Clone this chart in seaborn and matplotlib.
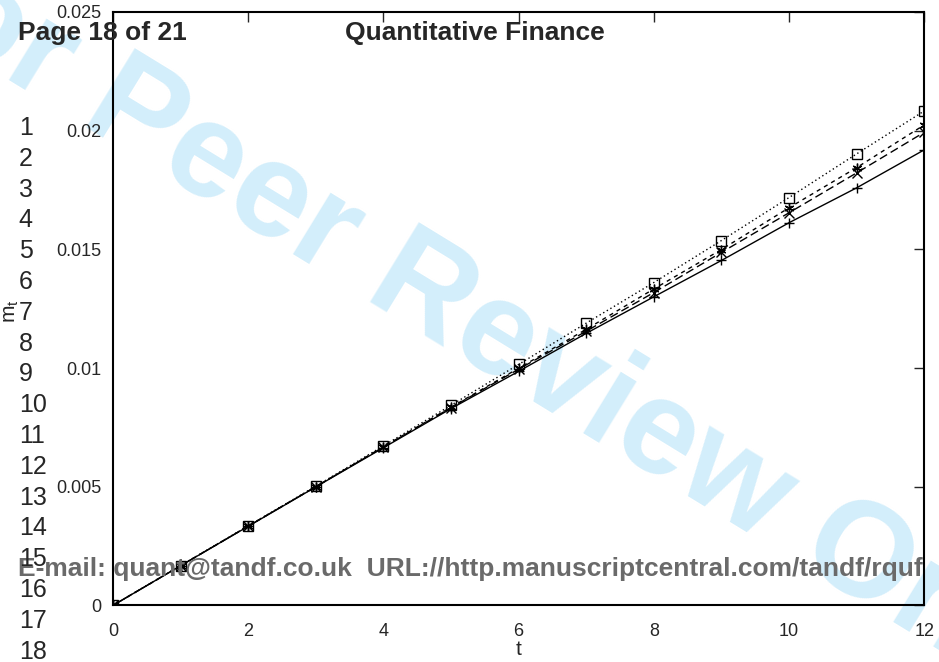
import numpy as np
import pandas as pd
import matplotlib
matplotlib.use('Agg')
import matplotlib.pyplot as plt
import seaborn as sns

# valores
t = [0, 1, 2, 3, 4, 5, 6, 7, 8, 9, 10, 11, 12]
m_plus = [0, 0.00167, 0.00333, 0.00499, 0.00664, 0.00829, 0.00986, 0.01146, 0.01300, 0.01453, 0.01612, 0.01759, 0.01919]
m_cross = [0, 0.00167, 0.00334, 0.00500, 0.00667, 0.00833, 0.00995, 0.01155, 0.01318, 0.01487, 0.01654, 0.01822, 0.01993]
m_star = [0, 0.00167, 0.00334, 0.00500, 0.00668, 0.00835, 0.00999, 0.01163, 0.01333, 0.01499, 0.01675, 0.01844, 0.02024]
m_square = [0, 0.00168, 0.00335, 0.00502, 0.00672, 0.00843, 0.01015, 0.01189, 0.01360, 0.01537, 0.01718, 0.01902, 0.02083]
x_ticks = [0, 2, 4, 6, 8, 10, 12]
y_ticks = [0, 0.005, 0.01, 0.015, 0.02, 0.025]
y_labels = ['0', '0.005', '0.01', '0.015', '0.02', '0.025']

sns.set_style('white')
plt.rcParams['font.family'] = ['Liberation Sans', 'DejaVu Sans']

fig = plt.figure(figsize=(9.39, 6.62), dpi=100)
ax = fig.add_axes([0.1203, 0.0855, 0.864, 0.8965])
ax.patch.set_alpha(0)

asterisk = (6, 2, 0)
series = [
    (m_plus, '-', '+'),
    (m_cross, (0, (6, 3)), 'x'),
    (m_star, (0, (3, 3)), asterisk),
    (m_square, (0, (1, 2)), 's'),
]
for vals, ls, mk in series:
    df = pd.DataFrame({'t': t, 'm': vals})
    sns.lineplot(data=df, x='t', y='m', ax=ax, color='black', linewidth=1.0,
                 linestyle=ls, marker=mk, markersize=7, markerfacecolor='none',
                 markeredgecolor='black', markeredgewidth=1.0)

ax.set_xlim(0, 12)
ax.set_ylim(0, 0.025)
ax.set_xticks(x_ticks)
ax.set_yticks(y_ticks)
ax.set_yticklabels(y_labels)
ax.tick_params(direction='in', length=7, width=1, top=True, right=True,
               labelsize=13, pad=8)
ax.tick_params(axis='x', pad=13)
for s in ax.spines.values():
    s.set_linewidth(1.5)
    s.set_color('black')
ax.set_xlabel('t', fontsize=15, labelpad=0)
ax.set_ylabel('')
fig.text(0.012, 0.53, r'm$_\mathregular{t}$', rotation=90, fontsize=15,
         ha='center', va='center')

# marca d'agua e cabecalho da pagina
fig.text(0.505, 0.51, 'For Peer Review Only', fontsize=98, fontweight='bold',
         color='#d3eefb', rotation=-31.5, ha='center', va='center',
         rotation_mode='anchor', zorder=-5)
fig.text(0.019, 0.95, 'Page 18 of 21', fontsize=19, fontweight='bold',
         ha='left', va='center', zorder=10)
fig.text(0.506, 0.95, 'Quantitative Finance', fontsize=19, fontweight='bold',
         ha='center', va='center', zorder=10)
fig.text(0.019, 0.141, 'E-mail: quant@tandf.co.uk  URL://http.manuscriptcentral.com/tandf/rquf',
         fontsize=19, fontweight='bold', color='#6a6a6a', ha='left', va='center', zorder=10)
for i in range(18):
    y_px = 128 + i * 30.8
    fig.text(0.02, 1 - y_px / 662, str(i + 1), fontsize=18, ha='left',
             va='center', zorder=10)

fig.savefig('out.png', dpi=100)
